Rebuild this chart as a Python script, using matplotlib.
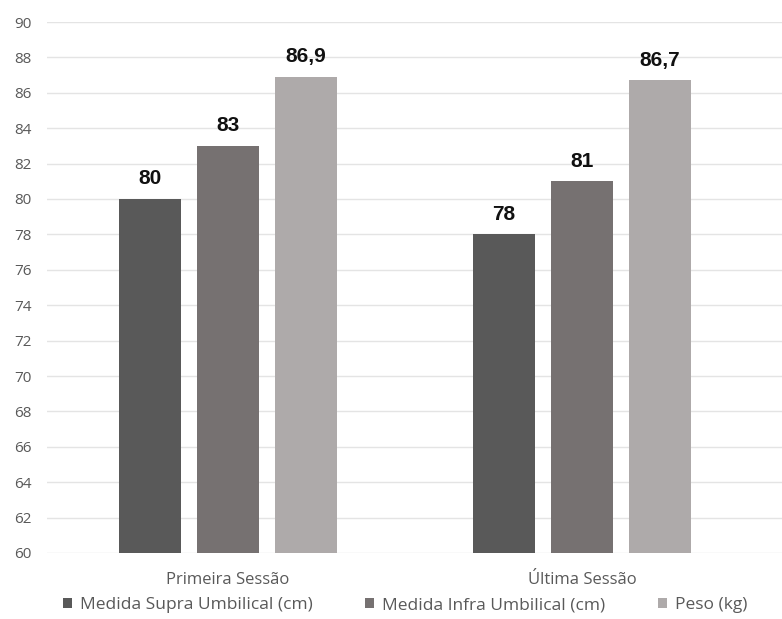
import numpy as np
import matplotlib.pyplot as plt

sessoes = ['Primeira Sessão', 'Última Sessão']
series = ['Medida Supra Umbilical (cm)', 'Medida Infra Umbilical (cm)', 'Peso (kg)']
supra = [80, 78]
infra = [83, 81]
peso = [86.9, 86.7]
cores = ['#595959', '#767171', '#AEAAAA']

fig = plt.figure(figsize=(7.82, 6.19), dpi=100)
ax = fig.add_axes([47 / 782, 1 - 553 / 619, 1 - 47 / 782, (553 - 22) / 619])

x = np.arange(len(sessoes))
w = 62 / 354
passo = 78 / 354
for i, (nome, vals, cor) in enumerate(zip(series, [supra, infra, peso], cores)):
    pos = x + (i - 1) * passo
    ax.bar(pos, np.array(vals) - 60, bottom=60, width=w, color=cor, label=nome, zorder=3)
    for xp, v in zip(pos, vals):
        txt = f'{v:g}'.replace('.', ',')
        ax.text(xp, v + 0.6, txt, ha='center', va='bottom', fontsize=15,
                fontweight='bold', family='Liberation Sans', color='#111111')

ax.set_ylim(60, 90)
ax.set_xlim((47 - 228) / 354, (782 - 228) / 354)
ax.set_yticks(np.arange(60, 91, 2))
ax.yaxis.grid(True, color='#e4e4e4', linewidth=1, zorder=0)
ax.set_xticks(x)
ax.set_xticklabels(sessoes, fontsize=12, family='Open Sans', color='#595959')
ax.tick_params(axis='y', labelsize=11, labelcolor='#595959', length=0, pad=11)
ax.tick_params(axis='x', length=0, pad=14)
for lbl in ax.get_yticklabels():
    lbl.set_family('Open Sans')
for s in ax.spines.values():
    s.set_visible(False)

fig.legend(loc='center', bbox_to_anchor=(405 / 782, 1 - 605 / 619), ncol=3, frameon=False,
           prop={'family': 'Open Sans', 'size': 12.5}, labelcolor='#595959',
           handlelength=0.55, handleheight=0.55, handletextpad=0.45, columnspacing=3.0)

fig.savefig('out.png', dpi=100)
